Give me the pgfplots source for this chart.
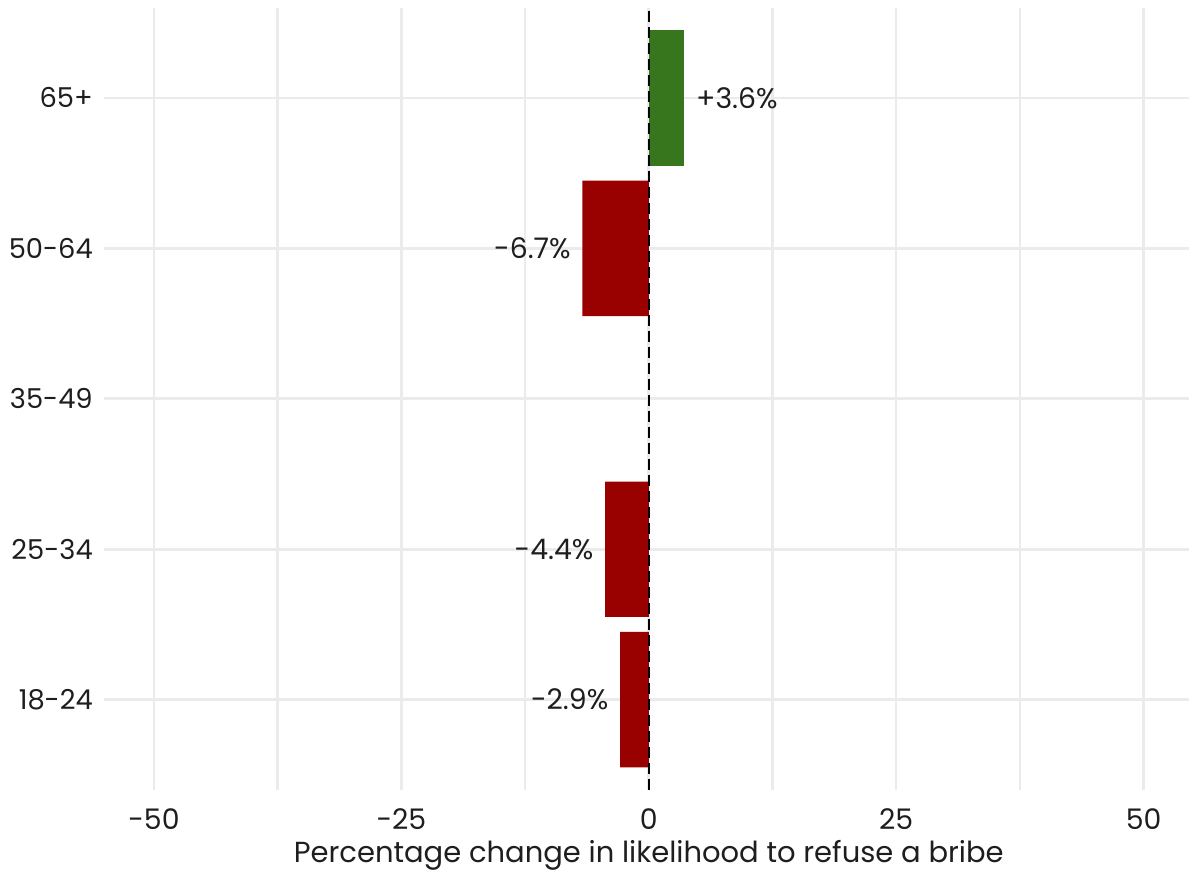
\documentclass[border=0pt]{standalone}
\usepackage{pgfplots}
\pgfplotsset{compat=1.18}
\usepackage{fontspec}
\setmainfont{Poppins}

\definecolor{gridgrey}{RGB}{235,235,235}
\definecolor{barred}{RGB}{153,0,0}
\definecolor{bargreen}{RGB}{56,118,29}
\definecolor{txt}{RGB}{30,30,30}

\begin{document}
\begin{tikzpicture}
\begin{axis}[
    width=326.6pt, height=234.7pt,
    scale only axis,
    xmin=-55, xmax=55,
    ymin=0.4, ymax=5.6,
    axis line style={draw=none},
    major tick length=0pt, minor tick length=0pt,
    xtick={-50,-25,0,25,50},
    xticklabels={-50,-25,0,25,50},
    minor xtick={-37.5,-12.5,12.5,37.5},
    ytick={1,2,3,4,5},
    yticklabels={18-24,25-34,35-49,50-64,65+},
    xmajorgrids, xminorgrids, ymajorgrids,
    grid style={gridgrey, line width=0.8pt},
    minor grid style={gridgrey, line width=0.8pt},
    tick label style={font=\fontsize{8.5}{10}\selectfont, text=txt},
    xticklabel style={yshift=-2pt},
    yticklabel style={font=\fontsize{8.2}{10}\selectfont, xshift=0pt},
    xlabel={Percentage change in likelihood to refuse a bribe},
    xlabel style={font=\fontsize{8.7}{10}\selectfont, text=txt, yshift=3.5pt},
    nodes near coords={\pgfplotspointmeta},
    point meta=explicit symbolic,
    every node near coord/.append style={font=\fontsize{8.5}{10}\selectfont, text=txt},
    /pgf/number format/assume math mode=true,
]

% positive change
\addplot[xbar, bar width=0.9, bar shift=0pt, fill=bargreen, draw=none,
    every node near coord/.append style={anchor=west}]
coordinates {
    (3.6,5) [+3.6\%]
};

% negative change
\addplot[xbar, bar width=0.9, bar shift=0pt, fill=barred, draw=none,
    every node near coord/.append style={anchor=east}]
coordinates {
    (-2.9,1) [-2.9\%]
    (-4.4,2) [-4.4\%]
    (-6.7,4) [-6.7\%]
};

% zero line
\addplot[black, line width=0.75pt, dash pattern=on 3.2pt off 1.6pt, nodes near coords={}]
coordinates {(0,0.4) (0,5.6)};

\end{axis}
\pgfresetboundingbox
\path ([shift={(-31.35pt,-24.9pt)}]current axis.south west) rectangle ([shift={(-1.2pt,2.3pt)}]current axis.north east);
\end{tikzpicture}
\end{document}
